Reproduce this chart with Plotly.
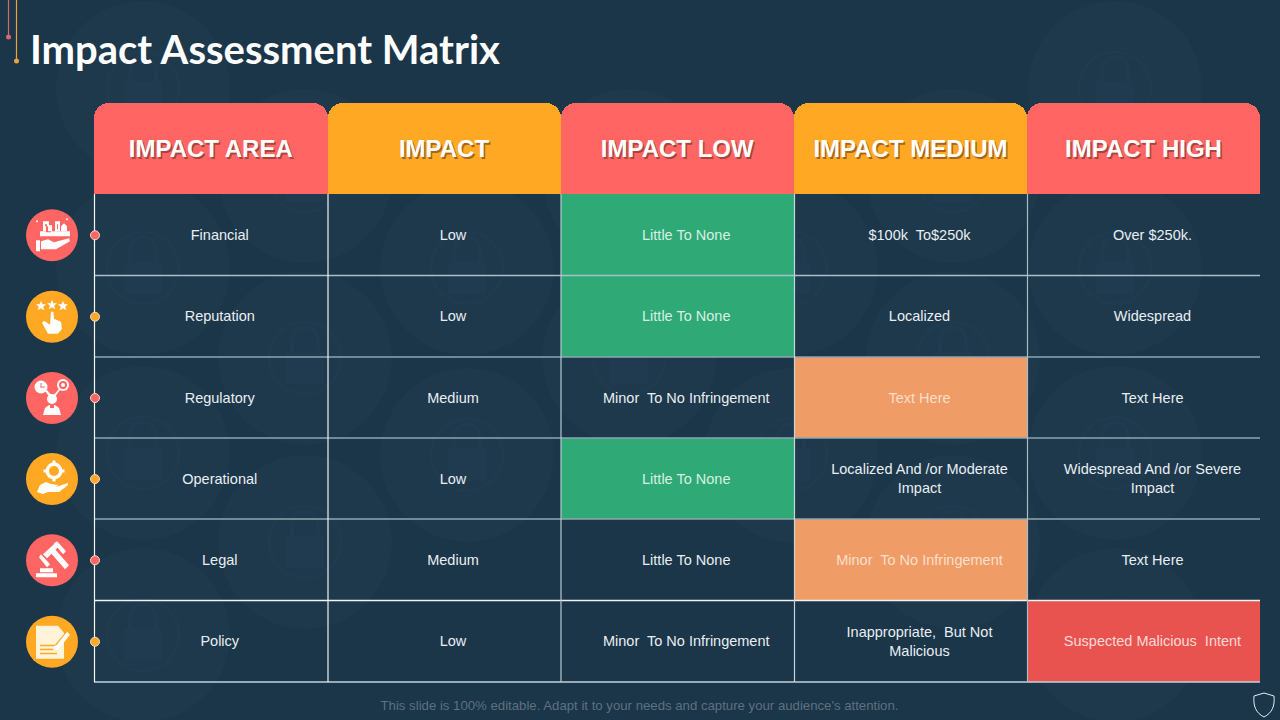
import plotly.graph_objects as go

# table content
headers = ["IMPACT AREA", "IMPACT", "IMPACT LOW", "IMPACT MEDIUM", "IMPACT HIGH"]
impact_area = ["Financial", "Reputation", "Regulatory", "Operational", "Legal", "Policy"]
impact = ["Low", "Low", "Medium", "Low", "Medium", "Low"]
impact_low = ["Little To None", "Little To None", "Minor  To No Infringement",
              "Little To None", "Little To None", "Minor  To No Infringement"]
impact_medium = ["$100k  To$250k", "Localized", "Text Here",
                 "Localized And /or Moderate<br>Impact", "Minor  To No Infringement",
                 "Inappropriate,  But Not<br>Malicious"]
impact_high = ["Over $250k.", "Widespread", "Text Here",
               "Widespread And /or Severe<br>Impact", "Text Here", "Suspected Malicious  Intent"]
highlight_col = [2, 2, 3, 2, 3, 4]

# geometry of the slide, in pixels
col_edges = [94, 327.5, 560.5, 794, 1027, 1260]
row_edges = [194, 275.5, 357, 438, 519, 600.5, 682]
header_top = 103

BG = "#1b3549"
RED = "#ff6663"
ORANGE = "#ffa823"
header_colors = [RED, ORANGE, RED, ORANGE, RED]
icon_colors = [RED, ORANGE, RED, ORANGE, RED, ORANGE]
hl_fill = {2: "#2fa975", 3: "#f09c66", 4: "#e9534f"}
hl_text = {2: "#d8f0e5", 3: "#fbdfca", 4: "#fcd9d7"}
h_line_colors = ["#a9bfcc", "#8ea6b3", "#8ea6b3", "#93a6b0", "#eef3f5", "#c4d2da"]
v_line_colors = ["#f4f7f8", "#f0f4f6", "#b9c9d2", "#c6d4dc", "#a9bcc7"]

col_mid = [(a + b) / 2 for a, b in zip(col_edges, col_edges[1:])]
col_w = [b - a for a, b in zip(col_edges, col_edges[1:])]
row_mid = [(a + b) / 2 for a, b in zip(row_edges, row_edges[1:])]
row_h = [b - a for a, b in zip(row_edges, row_edges[1:])]
columns = [impact_area, impact, impact_low, impact_medium, impact_high]
text_shift = 9
text_drop = 1.5  # text sits a bit high in its box

fig = go.Figure()

# header boxes: rounded bar, then a square one to straighten the lower corners
for i in range(5):
    fig.add_trace(go.Bar(x=[col_mid[i]], y=[header_top - row_edges[0]], base=[row_edges[0]],
                         width=[col_w[i]], marker=dict(color=header_colors[i], cornerradius=15,
                                                       line=dict(width=0))))
    fig.add_trace(go.Bar(x=[col_mid[i]], y=[-50], base=[row_edges[0]],
                         width=[col_w[i]], marker=dict(color=header_colors[i], line=dict(width=0))))

# highlighted cells
for c in hl_fill:
    rows = [r for r in range(6) if highlight_col[r] == c]
    fig.add_trace(go.Bar(x=[col_mid[c]] * len(rows), y=[row_h[r] for r in rows],
                         base=[row_edges[r] for r in rows], width=[col_w[c]] * len(rows),
                         marker=dict(color=hl_fill[c], line=dict(width=0))))

# grid
for i, y in enumerate(row_edges[1:]):
    fig.add_trace(go.Scatter(x=[col_edges[0], col_edges[-1]], y=[y, y], mode="lines",
                             line=dict(color=h_line_colors[i], width=1.4)))
for i, x in enumerate(col_edges[:-1]):
    fig.add_trace(go.Scatter(x=[x + 0.5, x + 0.5], y=[row_edges[0], row_edges[-1]], mode="lines",
                             line=dict(color=v_line_colors[i], width=1.2)))

# icon discs and the small dots on the left rule
icon_y = [m + 0.5 for m in row_mid]
fig.add_trace(go.Scatter(x=[52] * 6, y=icon_y, mode="markers",
                         marker=dict(size=52, color=icon_colors, line=dict(width=0))))
fig.add_trace(go.Scatter(x=[col_edges[0] + 1] * 6, y=icon_y, mode="markers",
                         marker=dict(size=9, color=icon_colors, line=dict(width=1, color="#f3d9c8"))))

# decoration lines in the top left corner
fig.add_trace(go.Scatter(x=[8.5, 8.5], y=[0, 37], mode="lines", line=dict(color="#d9686c", width=1.2)))
fig.add_trace(go.Scatter(x=[16.5, 16.5], y=[0, 61], mode="lines", line=dict(color="#eaa53a", width=1.2)))
fig.add_trace(go.Scatter(x=[8.5, 16.5], y=[37, 61], mode="markers",
                         marker=dict(size=5, color=["#d9686c", "#eaa53a"])))

# header text with a soft shadow
fig.add_trace(go.Scatter(x=[m + 1.5 for m in col_mid], y=[152.5] * 5, mode="text", text=headers,
                         textfont=dict(family="Liberation Sans", size=24, color="rgba(90,40,30,0.55)",
                                       weight="bold"),
                         textposition="middle center"))
fig.add_trace(go.Scatter(x=col_mid, y=[151] * 5, mode="text", text=headers,
                         textfont=dict(family="Liberation Sans", size=24, color="#ffffff", weight="bold"),
                         textposition="middle center"))

# body text
for c, values in enumerate(columns):
    colors = [hl_text[c] if highlight_col[r] == c else "#e8eff3" for r in range(6)]
    fig.add_trace(go.Scatter(x=[col_mid[c] + text_shift] * 6, y=[m + text_drop for m in row_mid],
                             mode="text", text=values,
                             textfont=dict(family="Liberation Sans", size=14.5, color=colors),
                             textposition="middle center"))

# title and footer
fig.add_trace(go.Scatter(x=[30], y=[54], mode="text", text=["Impact Assessment Matrix"],
                         textposition="middle right",
                         textfont=dict(family="Lato", size=40, color="#ffffff", weight="bold")))
fig.add_trace(go.Scatter(x=[639.5], y=[707], mode="text",
                         text=["This slide is 100% editable. Adapt it to your needs and capture your audience's attention."],
                         textposition="middle center",
                         textfont=dict(family="Liberation Sans", size=13.2, color="#5e7180")))

shapes = []


# watermark tile: big disc, ring and padlock
def lock_tile(cx, cy):
    fill = "rgba(120,170,200,0.025)"
    faint = "rgba(120,170,200,0.03)"
    shapes.append(dict(type="circle", layer="below", x0=cx - 87, x1=cx + 87, y0=cy - 87, y1=cy + 87,
                       fillcolor=faint, line=dict(width=0)))
    shapes.append(dict(type="circle", layer="below", x0=cx - 36, x1=cx + 36, y0=cy - 36, y1=cy + 36,
                       fillcolor="rgba(0,0,0,0)", line=dict(width=3, color=fill)))
    shapes.append(dict(type="rect", layer="below", x0=cx - 19, x1=cx + 19, y0=cy - 6, y1=cy + 26,
                       fillcolor=fill, line=dict(width=0)))
    shapes.append(dict(type="path", layer="below",
                       path=f"M{cx-13},{cy-6} L{cx-13},{cy-16} C{cx-13},{cy-36} {cx+13},{cy-36} {cx+13},{cy-16} L{cx+13},{cy-6}",
                       fillcolor="rgba(0,0,0,0)", line=dict(width=4, color=fill)))


for cx, ys in [(143, [88, 268, 453, 635]), (305, [176, 358, 542]), (467, [268, 455]),
               (629, [176, 358]), (791, [268, 455]), (953, [176, 358, 542]),
               (1115, [88, 268, 453, 635])]:
    for cy in ys:
        lock_tile(cx, cy)


# small helpers for the white icon glyphs, relative to the disc centre
def poly(cx, cy, pts, color="#ffffff"):
    d = "M" + " L".join(f"{cx+x},{cy+y}" for x, y in pts) + " Z"
    shapes.append(dict(type="path", path=d, fillcolor=color, line=dict(width=0)))


def dot(cx, cy, x, y, r, color="#ffffff"):
    shapes.append(dict(type="circle", x0=cx + x - r, x1=cx + x + r, y0=cy + y - r, y1=cy + y + r,
                       fillcolor=color, line=dict(width=0)))


def box(cx, cy, x0, y0, x1, y1, color="#ffffff"):
    poly(cx, cy, [(x0, y0), (x1, y0), (x1, y1), (x0, y1)], color)


def star(cx, cy, x, y):
    poly(cx, cy, [(x, y - 5), (x + 1.4, y - 1.5), (x + 5, y - 1.5), (x + 2.2, y + 1), (x + 3.2, y + 4.5),
                  (x, y + 2.5), (x - 3.2, y + 4.5), (x - 2.2, y + 1), (x - 5, y - 1.5), (x - 1.4, y - 1.5)])


# financial: buildings on a hand
cx, cy = 52, icon_y[0]
box(cx, cy, -16, 5, -12, 16)
poly(cx, cy, [(-11, 6), (-4, 4), (2, 7), (17, 3), (18, 6), (4, 14), (-11, 14)])
box(cx, cy, -12, -4, 18, 1)
box(cx, cy, -9, -14, -3, -4)
box(cx, cy, -6, -9, -1, -3, RED)
box(cx, cy, -4, -10, 0, -4)
box(cx, cy, 3, -14, 8, -4)
poly(cx, cy, [(9, -4), (9, -9), (12, -12), (15, -9), (15, -4)])
box(cx, cy, -7, -11, -5, -9, RED)
box(cx, cy, 5, -11, 6, -6, RED)
dot(cx, cy, 15, -16, 1)
dot(cx, cy, -15, -14, 1)

# reputation: three stars and a pointing hand
cx, cy = 52, icon_y[1]
star(cx, cy, -11, -11)
star(cx, cy, 0, -12)
star(cx, cy, 11, -11)
poly(cx, cy, [(-1, -5), (1.5, -5), (2, 2), (9, 5), (10, 12), (6, 17), (-4, 17), (-10, 6), (-8, 4), (-2, 8)])

# regulatory: clock, gear, bulb, person
cx, cy = 52, icon_y[2]
dot(cx, cy, -11, -11, 6.5)
box(cx, cy, -11.5, -15, -10.5, -10.5, RED)
box(cx, cy, -11.5, -11.5, -7, -10.5, RED)
dot(cx, cy, 11, -13, 6)
dot(cx, cy, 11, -13, 4, RED)
dot(cx, cy, 11, -13, 2)
poly(cx, cy, [(-7, -7), (-5, -8), (1, -1), (-1, 1)])
poly(cx, cy, [(7, -9), (8, -8), (2, 0), (0, -1)])
dot(cx, cy, 0, 1, 5)
poly(cx, cy, [(-9, 17), (-7, 10), (-3, 7), (3, 7), (7, 10), (9, 17)])
box(cx, cy, -2, 6, 2, 10, RED)

# operational: gear on an open hand
cx, cy = 52, icon_y[3]
dot(cx, cy, 2, -8, 8.5)
dot(cx, cy, 2, -8, 5, ORANGE)
for dx, dy in [(0, -9), (0, 9), (-9, 0), (9, 0)]:
    box(cx, cy, 2 + dx - 1.5, -8 + dy - 1.5, 2 + dx + 1.5, -8 + dy + 1.5)
poly(cx, cy, [(-15, 13), (-12, 6), (-6, 3), (-1, 5), (6, 6), (4, 8), (16, 4), (16, 6), (7, 13), (-4, 13), (-9, 15)])

# legal: gavel and block
cx, cy = 52, icon_y[4]
poly(cx, cy, [(-9, -6), (3, -17), (6, -13), (-5, -2)])
poly(cx, cy, [(-13, -3), (-11, -6), (-2, 4), (-5, 7)])
poly(cx, cy, [(2, -17), (5, -19), (14, -9), (11, -6)])
poly(cx, cy, [(-1, -7), (3, -11), (17, 5), (13, 9)])
box(cx, cy, -12, 8, 1, 12)
box(cx, cy, -16, 13, 5, 17)

# policy: sheet with a pencil
cx, cy = 52, icon_y[5]
poly(cx, cy, [(-16, -16), (6, -16), (12, -9), (12, 17), (-16, 17)], "#fff3d9")
for y in [3, 7, 11]:
    box(cx, cy, -12, y, 5, y + 1.5, ORANGE)
poly(cx, cy, [(2, 5), (15, -10), (18, -7), (6, 8), (1, 9)], "#ffffff")
poly(cx, cy, [(3, 3), (14, -10), (15, -10), (4, 4)], ORANGE)

# shield bottom right
shapes.append(dict(type="path", path="M1264,693 L1274,696 C1275,706 1272,713 1264,717 C1256,713 1253,706 1254,696 Z",
                   fillcolor="rgba(0,0,0,0)", line=dict(width=1, color="#e8eef2")))

fig.update_layout(
    width=1280, height=720, margin=dict(l=0, r=0, t=0, b=0),
    paper_bgcolor=BG, plot_bgcolor=BG, showlegend=False, barmode="overlay", bargap=0,
    hovermode=False, shapes=shapes,
    xaxis=dict(range=[0, 1280], visible=False, fixedrange=True),
    yaxis=dict(range=[720, 0], visible=False, fixedrange=True),
)

fig.write_html("out.html", config={"displayModeBar": False},
               post_script="document.body.style.margin='0';")
